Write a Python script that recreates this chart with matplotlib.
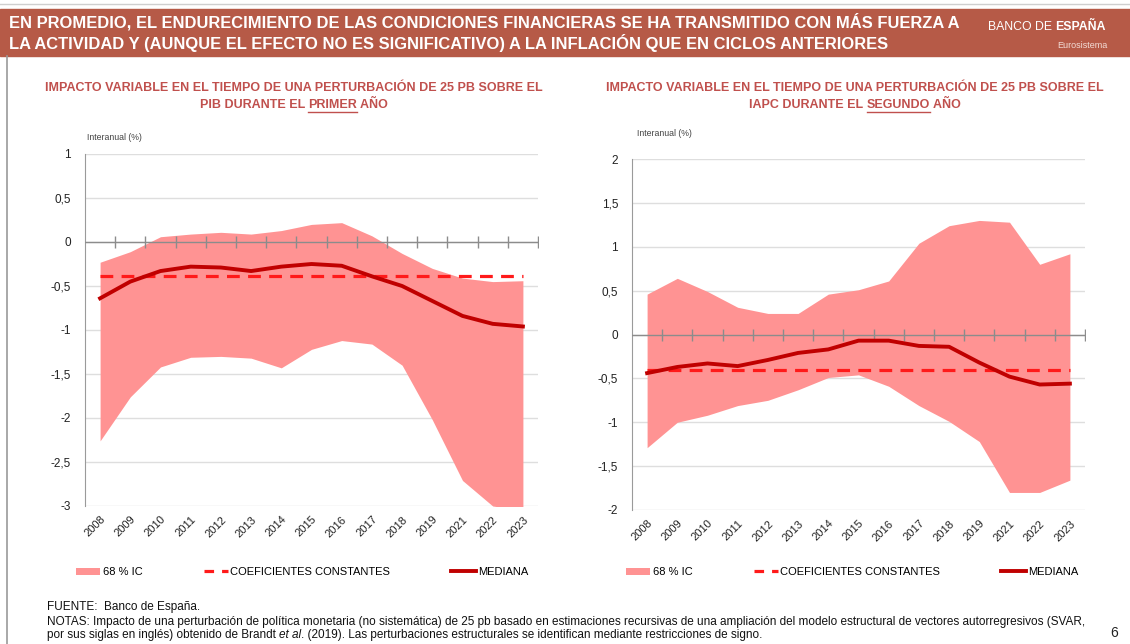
import numpy as np
import matplotlib
matplotlib.use("Agg")
import matplotlib.pyplot as plt
from matplotlib.patches import Rectangle, Patch
from matplotlib.lines import Line2D

# ---- data ----
years = ["2008", "2009", "2010", "2011", "2012", "2013", "2014", "2015",
         "2016", "2017", "2018", "2019", "2021", "2022", "2023"]

pib_upper = [-0.23, -0.11, 0.06, 0.09, 0.11, 0.09, 0.13, 0.20, 0.22, 0.07,
             -0.13, -0.30, -0.41, -0.45, -0.44]
pib_lower = [-2.26, -1.76, -1.42, -1.31, -1.30, -1.32, -1.43, -1.22, -1.12, -1.16,
             -1.40, -2.02, -2.71, -3.00, -3.05]
pib_median = [-0.64, -0.45, -0.33, -0.28, -0.29, -0.33, -0.28, -0.25, -0.27, -0.39,
              -0.50, -0.67, -0.84, -0.93, -0.96]
pib_const = -0.39

iapc_upper = [0.46, 0.64, 0.49, 0.31, 0.24, 0.24, 0.46, 0.51, 0.61, 1.04,
              1.24, 1.30, 1.28, 0.80, 0.92]
iapc_lower = [-1.29, -1.00, -0.92, -0.81, -0.75, -0.63, -0.49, -0.46, -0.59, -0.81,
              -0.99, -1.22, -1.80, -1.80, -1.66]
iapc_median = [-0.44, -0.37, -0.33, -0.36, -0.29, -0.21, -0.17, -0.07, -0.07, -0.13,
               -0.14, -0.32, -0.48, -0.57, -0.56]
iapc_const = -0.41

pib_yticks = [1, 0.5, 0, -0.5, -1, -1.5, -2, -2.5, -3]
iapc_yticks = [2, 1.5, 1, 0.5, 0, -0.5, -1, -1.5, -2]

W, H = 1130, 644
BAND = "#ff9393"
MED = "#c00000"
CONST = "#ff1a1a"
TITLE_RED = "#c0504d"
HEADER = "#b65a47"
SANS = ["Liberation Sans", "DejaVu Sans"]

fig = plt.figure(figsize=(W / 100, H / 100), dpi=100)


def fx(px):
    return px / W


def fy(py):
    return 1 - py / H


# header band and frame
fig.patches.append(Rectangle((0, fy(56)), 1, (56 - 9) / H, transform=fig.transFigure,
                             color=HEADER, zorder=0))
fig.add_artist(Line2D([fx(0), fx(W)], [fy(4), fy(4)], color="#cfcfcf", lw=1))
fig.add_artist(Line2D([fx(7), fx(7)], [fy(56), fy(H)], color="#9a9a9a", lw=1.2))

fig.text(fx(9), fy(22), "EN PROMEDIO, EL ENDURECIMIENTO DE LAS CONDICIONES FINANCIERAS SE HA TRANSMITIDO CON MÁS FUERZA A",
         color="white", fontsize=11.9, fontweight="bold", family=SANS, va="center")
fig.text(fx(9), fy(43), "LA ACTIVIDAD Y (AUNQUE EL EFECTO NO ES SIGNIFICATIVO) A LA INFLACIÓN QUE EN CICLOS ANTERIORES",
         color="white", fontsize=11.9, fontweight="bold", family=SANS, va="center")

renderer = fig.canvas.get_renderer()


def runs(x, y, pieces, **kw):
    # draw text pieces one after another from pixel x
    xpos = x
    out = []
    for s, extra in pieces:
        props = dict(kw)
        props.update(extra)
        t = fig.text(fx(xpos), fy(y), s, **props)
        bb = t.get_window_extent(renderer)
        xpos += bb.width
        out.append(t)
    return out


runs(988, 27, [("BANCO DE ", {"fontweight": "normal"}), ("ESPAÑA", {"fontweight": "bold"})],
     color="white", fontsize=8.8, family=SANS, va="center")
fig.text(fx(1108), fy(46), "Eurosistema", color="#f3dcd6", fontsize=6.5, family=SANS,
         ha="right", va="center")


def subtitle(cx, line1, pre, word, post):
    kw = dict(color=TITLE_RED, fontsize=9, fontweight="bold", family=SANS, va="center")
    fig.text(fx(cx), fy(88), line1, ha="center", **kw)
    full = fig.text(0, 0, pre + word + post, **kw)
    wfull = full.get_window_extent(renderer).width
    full.remove()
    x0 = cx - wfull / 2
    ts = runs(x0, 105, [(pre, {}), (word, {}), (post, {})], **kw)
    bb = ts[1].get_window_extent(renderer)
    fig.add_artist(Line2D([bb.x0 / W, bb.x1 / W], [fy(112), fy(112)], color=TITLE_RED, lw=1))


subtitle(294, "IMPACTO VARIABLE EN EL TIEMPO DE UNA PERTURBACIÓN DE 25 PB SOBRE EL",
         "PIB DURANTE EL ", "PRIMER", " AÑO")
subtitle(855, "IMPACTO VARIABLE EN EL TIEMPO DE UNA PERTURBACIÓN DE 25 PB SOBRE EL",
         "IAPC DURANTE EL ", "SEGUNDO", " AÑO")


def panel(rect, upper, lower, median, const, yticks, label_xy, legend_x):
    ax = fig.add_axes(rect)
    x = np.arange(len(years))
    ax.fill_between(x, lower, upper, color=BAND, lw=0, zorder=2)
    ax.plot(x, [const] * len(x), color=CONST, lw=2.3, dashes=(4, 2.6), zorder=4)
    ax.plot(x, median, color=MED, lw=2.8, zorder=5)
    ax.axhline(0, color="#8c8c8c", lw=1, zorder=3)
    ax.plot(np.arange(len(years)) + 0.5, [0] * len(years), ls="none", marker="|",
            ms=8, mew=1, color="#8c8c8c", zorder=3)
    ax.set_xlim(-0.5, len(years) - 0.5)
    ax.set_ylim(min(yticks), max(yticks))
    ax.set_yticks(yticks)
    ax.set_yticklabels([f"{t:g}".replace(".", ",") for t in yticks])
    ax.yaxis.grid(True, color="#dedede", lw=1, zorder=0)
    ax.set_axisbelow(True)
    ax.set_xticks(x)
    ax.set_xticklabels(years, rotation=45, ha="right", rotation_mode="anchor")
    ax.tick_params(axis="x", length=0, pad=6, labelsize=8, labelcolor="#222222")
    ax.tick_params(axis="y", length=0, pad=10, labelsize=8.5, labelcolor="#222222")
    for s in ["top", "right", "bottom"]:
        ax.spines[s].set_visible(False)
    ax.spines["left"].set_color("#9a9a9a")
    for lab in ax.get_xticklabels() + ax.get_yticklabels():
        lab.set_family(SANS)
    fig.text(fx(label_xy[0]), fy(label_xy[1]), "Interanual (%)", fontsize=6.3,
             color="#444444", family=SANS, va="center")
    handles = [Patch(facecolor=BAND, edgecolor="none"),
               Line2D([], [], color=CONST, lw=2.3, dashes=(3, 2.5)),
               Line2D([], [], color=MED, lw=2.8)]
    fig.legend(handles, ["68 % IC", "COEFICIENTES CONSTANTES", "MEDIANA"],
               loc="center left", bbox_to_anchor=(fx(legend_x), fy(572)), ncol=3,
               frameon=False, handlelength=2.2, handleheight=0.6, handletextpad=0.2,
               columnspacing=5.5, prop={"family": SANS, "size": 8})
    return ax


panel([fx(85), fy(506), fx(538) - fx(85), (506 - 154) / H],
      pib_upper, pib_lower, pib_median, pib_const, pib_yticks, (87, 137), 66)
panel([fx(632), fy(510), fx(1085) - fx(632), (510 - 159) / H],
      iapc_upper, iapc_lower, iapc_median, iapc_const, iapc_yticks, (637, 134), 616)

foot = dict(fontsize=8.45, family=SANS, color="#111111", va="center")
fig.text(fx(47), fy(607), "FUENTE:  Banco de España.", **foot)
fig.text(fx(47), fy(622), "NOTAS: Impacto de una perturbación de política monetaria (no sistemática) de 25 pb basado en estimaciones "
         "recursivas de una ampliación del modelo estructural de vectores autorregresivos (SVAR,", **foot)
runs(47, 635, [("por sus siglas en inglés) obtenido de Brandt ", {}), ("et al", {"style": "italic"}),
               (". (2019). Las perturbaciones estructurales se identifican mediante restricciones de signo.", {})],
     **foot)
fig.text(fx(1110), fy(633), "6", fontsize=10, family=SANS, color="#222222", va="center")

fig.savefig("out.png", dpi=100)
